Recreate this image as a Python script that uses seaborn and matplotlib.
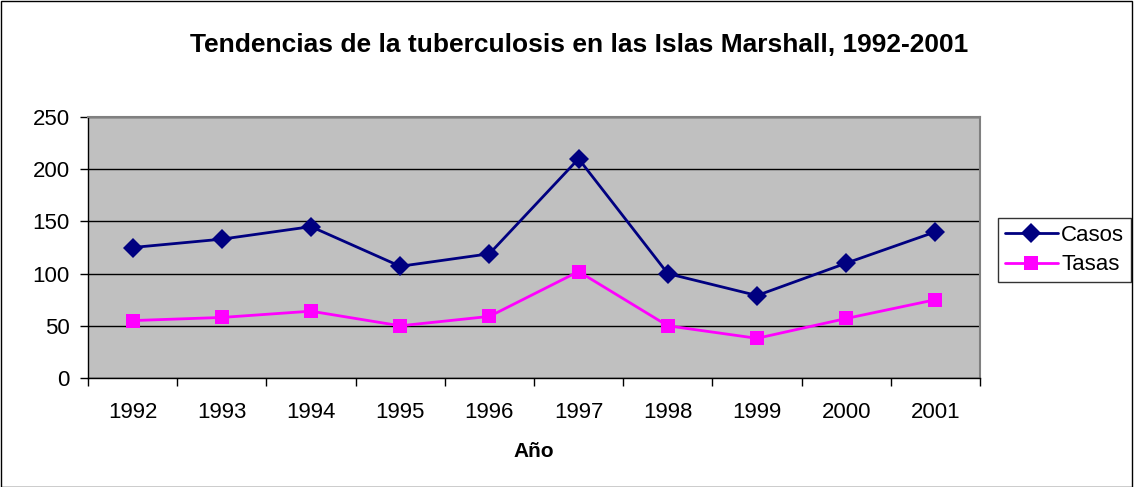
import numpy as np
import pandas as pd
import matplotlib
matplotlib.use('Agg')
import matplotlib.pyplot as plt
import seaborn as sns
from matplotlib.patches import Rectangle

# datos
anios = ['1992', '1993', '1994', '1995', '1996', '1997', '1998', '1999', '2000', '2001']
casos = [125, 133, 145, 107, 119, 210, 100, 79, 110, 140]
tasas = [55, 58, 64, 50, 59, 102, 50, 38, 57, 75]

df = pd.DataFrame({
    'pos': list(range(len(anios))) * 2,
    'valor': casos + tasas,
    'serie': ['Casos'] * len(anios) + ['Tasas'] * len(anios),
})

sns.set_style('white')
plt.rcParams['font.family'] = ['Liberation Sans', 'DejaVu Sans']
plt.rcParams['text.color'] = 'black'
plt.rcParams['axes.labelcolor'] = 'black'
plt.rcParams['xtick.color'] = 'black'
plt.rcParams['ytick.color'] = 'black'

fig = plt.figure(figsize=(11.34, 4.87), dpi=100)
ax = fig.add_axes([88 / 1134, 1 - 378 / 487, (980 - 88) / 1134, (378 - 117) / 487])
ax.set_facecolor('#C0C0C0')

sns.lineplot(data=df, x='pos', y='valor', hue='serie', style='serie',
             palette={'Casos': '#000080', 'Tasas': '#FF00FF'},
             markers={'Casos': 'D', 'Tasas': 's'}, dashes=False,
             markersize=10, linewidth=2, markeredgewidth=0, ax=ax, zorder=3)

ax.set_xlim(-0.5, len(anios) - 0.5)
ax.set_ylim(0, 250)
ax.set_yticks(range(0, 251, 50))
ax.set_xticks(range(len(anios)))
ax.set_xticklabels(anios)
ax.set_xticks(np.arange(-0.5, len(anios), 1), minor=True)
ax.tick_params(axis='x', which='major', bottom=False, length=0, pad=17, labelsize=16)
ax.tick_params(axis='x', which='minor', bottom=True, length=6, width=1, color='black', direction='out')
ax.tick_params(axis='y', which='major', left=True, length=6, width=1, color='black', direction='out', labelsize=16, pad=7)
ax.yaxis.grid(True, color='black', linewidth=1)
ax.set_axisbelow(True)

for s in ['top', 'right']:
    ax.spines[s].set_color('#808080')
    ax.spines[s].set_linewidth(1.5)
for s in ['left', 'bottom']:
    ax.spines[s].set_color('black')
    ax.spines[s].set_linewidth(1)

ax.set_xlabel('Año', fontsize=15, fontweight='bold', labelpad=14)
ax.set_ylabel('')

fig.text(579 / 1134, 1 - 45 / 487, 'Tendencias de la tuberculosis en las Islas Marshall, 1992-2001',
         ha='center', va='center', fontsize=19, fontweight='bold')

handles, labels = ax.get_legend_handles_labels()
ax.legend(handles, labels, loc='center left', bbox_to_anchor=(998 / 1134, 1 - 250 / 487),
          bbox_transform=fig.transFigure, frameon=True, fancybox=False, edgecolor='black',
          fontsize=16, handlelength=2.4, handletextpad=0.15, borderpad=0.3,
          labelspacing=0.4, borderaxespad=0)

# marco exterior
fig.patches.append(Rectangle((0.001, 0.001), 0.997, 0.997, transform=fig.transFigure,
                             fill=False, edgecolor='black', linewidth=1))

fig.savefig('out.png', dpi=100)
